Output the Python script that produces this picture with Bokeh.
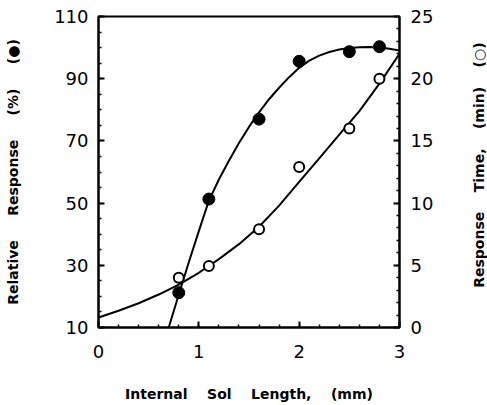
import numpy as np
from bokeh.plotting import figure
from bokeh.layouts import row
from bokeh.models import Range1d, LinearAxis, FixedTicker
from bokeh.core.properties import value
from bokeh.embed import file_html
from bokeh.resources import INLINE

# ---- data ----
length_mm = [0.8, 1.1, 1.6, 2.0, 2.5, 2.8]
relative_response = [21.2, 51.3, 77.0, 95.6, 98.7, 100.3]   # filled circles, left axis (%)
response_time = [4.0, 4.95, 7.9, 12.9, 16.0, 20.0]           # open circles, right axis (min)

# fitted curves
fit_resp_x = [0.70, 0.80, 0.90, 1.00, 1.10, 1.20, 1.30, 1.40, 1.50, 1.60, 1.70, 1.80,
              1.90, 2.00, 2.10, 2.20, 2.30, 2.40, 2.50, 2.60, 2.70, 2.80, 2.90, 3.00]
fit_resp_y = [10.0, 20.6, 31.0, 41.0, 50.8, 57.6, 63.6, 69.3, 74.5, 79.2, 83.4, 87.1,
              90.5, 93.5, 95.8, 97.4, 98.6, 99.4, 99.9, 100.1, 100.2, 100.0, 99.6, 99.1]
fit_time_x = [0.0, 0.2, 0.4, 0.6, 0.8, 1.0, 1.2, 1.4, 1.6, 1.8, 2.0, 2.2, 2.4, 2.6, 2.8, 3.0]
fit_time_y = [0.8, 1.35, 1.95, 2.65, 3.45, 4.4, 5.5, 6.7, 8.1, 9.8, 11.7, 13.6, 15.5, 17.4, 19.6, 22.0]

x_ticks = [0, 1, 2, 3]
left_ticks = [10, 30, 50, 70, 90, 110]
right_ticks = [0, 5, 10, 15, 20, 25]

SP4 = "\u00a0" * 4
SP5 = "\u00a0" * 5
x_label = "Internal" + SP4 + "Sol" + SP4 + "Length," + SP4 + "(mm)"
left_label = "Relative" + SP5 + "Response" + SP5 + "(%)" + SP5 + "(\u25CF)"
right_label = "Response" + SP4 + "Time," + SP4 + "(min)" + SP4 + "(\u25CB)"

TICK_FONT = "DejaVu Sans"
LABEL_FONT = "DejaVu Sans"

# layout (pixels)
H = 405
W_MAIN = 470
W_SIDE = 17
B_LEFT, B_RIGHT, B_TOP, B_BOTTOM = 98, 71, 16, 78

p = figure(width=W_MAIN, height=H, output_backend="svg", toolbar_location=None,
           x_range=Range1d(0, 3), y_range=Range1d(10, 110),
           min_border_left=B_LEFT, min_border_right=B_RIGHT,
           min_border_top=B_TOP, min_border_bottom=B_BOTTOM,
           background_fill_color="white", border_fill_color="white")
p.grid.visible = False
p.outline_line_color = "black"
p.outline_line_width = 2

p.extra_y_ranges = {"time": Range1d(0, 25)}
right_axis = LinearAxis(y_range_name="time")
p.add_layout(right_axis, "right")

# tickers
p.xaxis.ticker = FixedTicker(ticks=x_ticks, minor_ticks=list(np.round(np.arange(0, 3.0001, 0.2), 3)))
p.yaxis[0].ticker = FixedTicker(ticks=left_ticks, minor_ticks=list(range(10, 111, 5)))
right_axis.ticker = FixedTicker(ticks=right_ticks, minor_ticks=list(range(0, 26, 1)))

for ax in [p.xaxis[0], p.yaxis[0], right_axis]:
    ax.axis_line_color = "black"
    ax.axis_line_width = 2
    ax.major_tick_line_color = "black"
    ax.major_tick_line_width = 2
    ax.minor_tick_line_color = "black"
    ax.minor_tick_line_width = 1.5
    ax.major_tick_out = 0
    ax.minor_tick_out = 0
    ax.major_tick_in = 6
    ax.minor_tick_in = 3
    ax.major_label_text_font = TICK_FONT
    ax.major_label_text_font_size = "18px"
    ax.major_label_text_color = "black"
    ax.axis_label_text_font = LABEL_FONT
    ax.axis_label_text_font_size = "14px"
    ax.axis_label_text_font_style = "bold"
    ax.axis_label_text_color = "black"

p.xaxis[0].axis_label = x_label
p.xaxis[0].major_label_standoff = 17
p.xaxis[0].axis_label_standoff = 25

p.yaxis[0].axis_label = left_label
p.yaxis[0].major_label_standoff = 10
p.yaxis[0].axis_label_standoff = 30

right_axis.major_label_standoff = 11

# curves
p.line(fit_resp_x, fit_resp_y, line_color="black", line_width=2)
p.line(fit_time_x, fit_time_y, line_color="black", line_width=2, y_range_name="time")

# points
p.scatter(length_mm, relative_response, marker="circle", size=12,
          fill_color="black", line_color="black")
p.scatter(length_mm, response_time, marker="circle", size=10, y_range_name="time",
          fill_color="white", line_color="black", line_width=2)

# narrow side panel carrying the right-hand title, reading bottom-to-top
frame_h = H - B_TOP - B_BOTTOM
u_per_px = (110 - 10) / frame_h
side = figure(width=W_SIDE, height=H, output_backend="svg", toolbar_location=None,
              x_range=Range1d(0, 1),
              y_range=Range1d(10 - B_BOTTOM * u_per_px, 110 + B_TOP * u_per_px),
              x_axis_type=None, y_axis_type=None, min_border=0,
              background_fill_color="white", border_fill_color="white")
side.outline_line_color = None
side_label_y = (10 + 110) / 2 - 22 * u_per_px   # shift down to centre on the frame
side.text(x=[0.5], y=[side_label_y], text=[right_label], angle=np.pi / 2,
          text_align="center", text_baseline="middle",
          text_font=value(LABEL_FONT), text_font_size=value("14px"),
          text_font_style=value("bold"), text_color="black")

layout = row(p, side)
open("out.html", "w").write(file_html(layout, INLINE))
